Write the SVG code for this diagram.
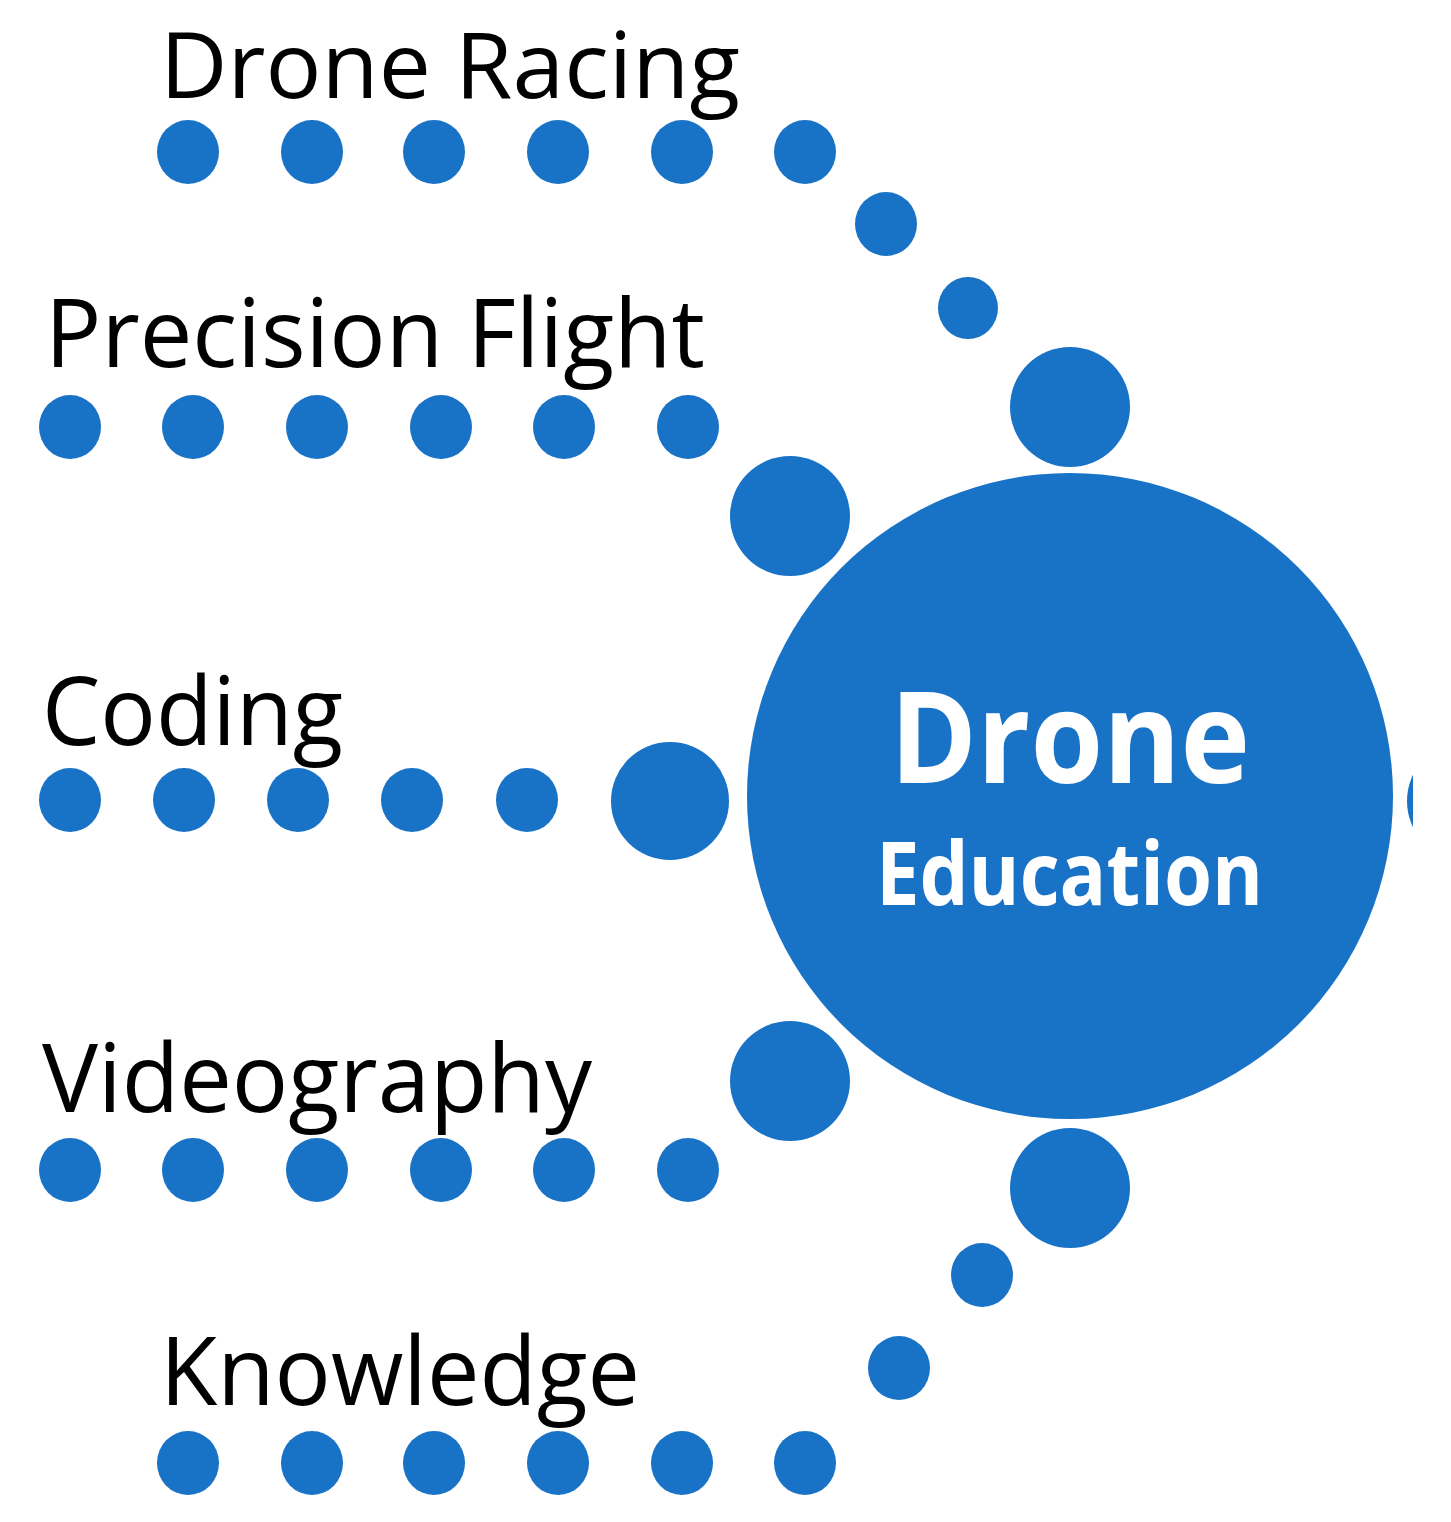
<svg xmlns="http://www.w3.org/2000/svg" width="1451" height="1522" viewBox="0 0 1451 1522">
<style>
.d{fill:#1872C6}
.lbl{font-family:"Open Sans","Liberation Sans",sans-serif;font-size:96px;fill:#000}
.ctr{font-family:"Open Sans","Liberation Sans",sans-serif;font-weight:bold;fill:#fff}
</style>
<defs>
<clipPath id="cl"><rect x="0" y="0" width="1413" height="1522"/></clipPath>
</defs>
<rect width="1451" height="1522" fill="#fff"/>
<g id="connectors">
<g id="racing-path">
<ellipse class="d" cx="188" cy="152" rx="31" ry="32"/>
<ellipse class="d" cx="312" cy="152" rx="31" ry="32"/>
<ellipse class="d" cx="434" cy="152" rx="31" ry="32"/>
<ellipse class="d" cx="558" cy="152" rx="31" ry="32"/>
<ellipse class="d" cx="682" cy="152" rx="31" ry="32"/>
<ellipse class="d" cx="805" cy="152" rx="31" ry="32"/>
<ellipse class="d" cx="886" cy="224" rx="31" ry="32"/>
<ellipse class="d" cx="968" cy="308" rx="30" ry="31"/>
<circle class="d" cx="1070" cy="407" r="60"/>
</g>
<g id="precision-path">
<ellipse class="d" cx="70" cy="427" rx="31" ry="32"/>
<ellipse class="d" cx="193" cy="427" rx="31" ry="32"/>
<ellipse class="d" cx="317" cy="427" rx="31" ry="32"/>
<ellipse class="d" cx="441" cy="427" rx="31" ry="32"/>
<ellipse class="d" cx="564" cy="427" rx="31" ry="32"/>
<ellipse class="d" cx="688" cy="427" rx="31" ry="32"/>
<circle class="d" cx="790" cy="516" r="60"/>
</g>
<g id="coding-path">
<ellipse class="d" cx="70" cy="800" rx="31" ry="32"/>
<ellipse class="d" cx="184" cy="800" rx="31" ry="32"/>
<ellipse class="d" cx="298" cy="800" rx="31" ry="32"/>
<ellipse class="d" cx="412" cy="800" rx="31" ry="32"/>
<ellipse class="d" cx="527" cy="800" rx="31" ry="32"/>
<circle class="d" cx="670" cy="801" r="59"/>
</g>
<g id="video-path">
<ellipse class="d" cx="70" cy="1170" rx="31" ry="32"/>
<ellipse class="d" cx="193" cy="1170" rx="31" ry="32"/>
<ellipse class="d" cx="317" cy="1170" rx="31" ry="32"/>
<ellipse class="d" cx="441" cy="1170" rx="31" ry="32"/>
<ellipse class="d" cx="564" cy="1170" rx="31" ry="32"/>
<ellipse class="d" cx="688" cy="1170" rx="31" ry="32"/>
<circle class="d" cx="790" cy="1081" r="60"/>
</g>
<g id="knowledge-path">
<ellipse class="d" cx="188" cy="1463" rx="31" ry="32"/>
<ellipse class="d" cx="312" cy="1463" rx="31" ry="32"/>
<ellipse class="d" cx="434" cy="1463" rx="31" ry="32"/>
<ellipse class="d" cx="558" cy="1463" rx="31" ry="32"/>
<ellipse class="d" cx="682" cy="1463" rx="31" ry="32"/>
<ellipse class="d" cx="805" cy="1463" rx="31" ry="32"/>
<ellipse class="d" cx="899" cy="1368" rx="31" ry="32"/>
<ellipse class="d" cx="982" cy="1275" rx="31" ry="32"/>
<circle class="d" cx="1070" cy="1188" r="60"/>
</g>
<g id="right-path" clip-path="url(#cl)">
<circle class="d" cx="1467" cy="801" r="60"/>
</g>
</g>
<g id="label-racing"><text class="lbl" x="160" y="98" font-size="91" style="font-size:91px" textLength="580" lengthAdjust="spacingAndGlyphs">Drone Racing</text></g>
<g id="label-precision"><text class="lbl" x="45" y="367" textLength="660" lengthAdjust="spacingAndGlyphs">Precision Flight</text></g>
<g id="label-coding"><text class="lbl" x="42" y="745" textLength="301" lengthAdjust="spacingAndGlyphs">Coding</text></g>
<g id="label-video"><text class="lbl" x="42" y="1112" textLength="550" lengthAdjust="spacingAndGlyphs">Videography</text></g>
<g id="label-knowledge"><text class="lbl" x="160" y="1405" textLength="480" lengthAdjust="spacingAndGlyphs">Knowledge</text></g>
<g id="center">
<circle class="d" cx="1070" cy="796" r="323"/>
<text class="ctr" x="890" y="783" font-size="127" textLength="360" lengthAdjust="spacingAndGlyphs">Drone</text>
<text class="ctr" x="876" y="905" font-size="88" textLength="387" lengthAdjust="spacingAndGlyphs">Education</text>
</g>
</svg>
